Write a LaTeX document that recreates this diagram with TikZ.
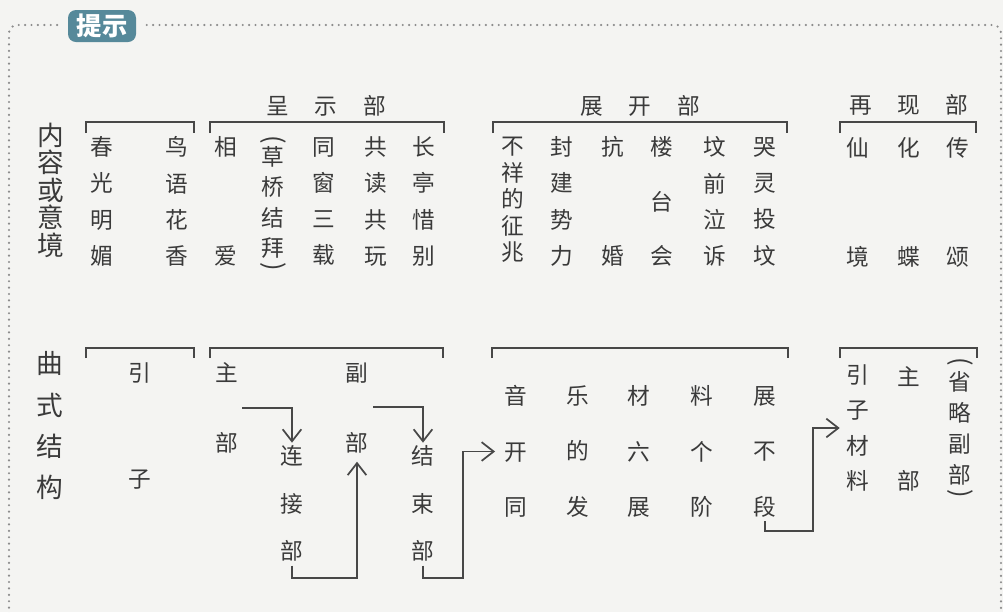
\documentclass[tikz,border=0pt]{standalone}
\usepackage{fontspec}
\newfontfamily\cjk{Noto Sans CJK SC}
\usetikzlibrary{arrows.meta}
\definecolor{bg}{HTML}{F4F4F2}
\definecolor{ink}{HTML}{3A3A3A}
\definecolor{ln}{HTML}{474747}
\definecolor{dotc}{HTML}{8C8C8C}
\definecolor{badgec}{HTML}{56899A}
\tikzset{
  ch/.style={font=\cjk\fontsize{17}{20}\selectfont, text=ink, inner sep=0pt},
  par/.style={font=\cjk\fontsize{19}{20}\selectfont, text=ink, inner sep=0pt, rotate=-90},
  vcol/.style={text=ink, inner sep=0pt, align=center, font=\cjk\fontsize{17}{#1}\selectfont},
  lab/.style={text=ink, inner sep=0pt, align=center, font=\cjk\fontsize{20}{#1}\selectfont},
  brk/.style={draw=ln, line width=1.3pt},
  arr/.style={draw=ln, line width=1.3pt, -{Straight Barb[length=9pt,width=14pt]}},
  frame/.style={draw=dotc, line width=1.8pt, line cap=round, dash pattern=on 0pt off 4.8pt, rounded corners=6pt},
}
\begin{document}
\begin{tikzpicture}[x=0.75pt,y=-0.75pt]
\path[use as bounding box, fill=bg] (0,0) rectangle (1003,612);
% frame
\draw[frame] (9,614) -- (9,25) -- (1001,25) -- (1001,614);
\node[fill=bg, minimum width=62pt, minimum height=26pt, inner sep=0pt] (cover) at (102,26) {};
\node[fill=badgec, rounded corners=6pt, minimum width=51pt, minimum height=24pt, inner sep=0pt,
      text=white, font=\cjk\bfseries\fontsize{19}{19}\selectfont] (badge) at (102,26) {提示};
% left labels
\node[lab=20.6] (nr) at (51,190) {内\\容\\或\\意\\境};
\node[lab=31] (qs) at (50,426) {曲\\式\\结\\构};
% headers
\node[ch] (h1) at (326,106) {呈\hspace{19.4pt}示\hspace{19.4pt}部};
\node[ch] (h2) at (640,106) {展\hspace{19.4pt}开\hspace{19.4pt}部};
\node[ch] (h3) at (909,105) {再\hspace{19pt}现\hspace{19pt}部};
% top brackets
\draw[brk] (86,133) |- (194,122) -- (194,133);
\draw[brk] (210,133) |- (444,122) -- (444,133);
\draw[brk] (493,133) |- (787,122) -- (787,133);
\draw[brk] (840,133) |- (976,122) -- (976,133);
% top content
\node[vcol=27.2] (cg) at (102,201.5) {春\\光\\明\\媚};
\node[vcol=27.2] (ny) at (177,201.5) {鸟\\语\\花\\香};
\node[ch] (xiang) at (226,147) {相};
\node[ch] (ai) at (226,256) {爱};
\node[vcol=22.7] (cq) at (273,202.5) {草\\桥\\结\\拜};
\node[par] (cql) at (273,140) {(};
\node[par] (cqr) at (273,267) {)};
\node[vcol=27.2] (tc) at (324,201.5) {同\\窗\\三\\载};
\node[vcol=27.2] (gd) at (376,201.5) {共\\读\\共\\玩};
\node[vcol=27.2] (ct) at (424,201.5) {长\\亭\\惜\\别};
\node[vcol=19.9] (bx) at (513,200) {不\\祥\\的\\征\\兆};
\node[vcol=27.2] (fj) at (562,201.5) {封\\建\\势\\力};
\node[ch] (kang) at (613,147) {抗};
\node[ch] (hun) at (613,256) {婚};
\node[ch] (lou) at (662,147) {楼};
\node[ch] (tai) at (662,202) {台};
\node[ch] (hui) at (662,256) {会};
\node[vcol=27.2] (fq) at (715,201.5) {坟\\前\\泣\\诉};
\node[vcol=27.2] (kl) at (765,201.5) {哭\\灵\\投\\坟};
\node[ch] (xian) at (858,148) {仙};
\node[ch] (jing) at (858,257) {境};
\node[ch] (hua) at (909,148) {化};
\node[ch] (die) at (909,257) {蝶};
\node[ch] (chuan) at (958,148) {传};
\node[ch] (song) at (958,257) {颂};
% bottom brackets
\draw[brk] (86,358) |- (194,348) -- (194,358);
\draw[brk] (210,358) |- (443,348) -- (443,358);
\draw[brk] (492,358) |- (788,348) -- (788,358);
\draw[brk] (840,358) |- (977,348) -- (977,358);
% bottom content
\node[ch] (yin) at (140,373) {引};
\node[ch] (zi) at (140,480) {子};
\node[ch] (zhu) at (227,373) {主};
\node[ch] (zb) at (227,443) {部};
\node[ch] (fu) at (357,373) {副};
\node[ch] (fb) at (357,443) {部};
\node[vcol=35.6] (lj) at (292,503.5) {连\\接\\部};
\node[vcol=35.6] (js) at (423,503.5) {结\\束\\部};
\node[vcol=41.6] (g1) at (516,451.5) {音\\开\\同};
\node[vcol=41.6] (g2) at (578,451.5) {乐\\的\\发};
\node[vcol=41.6] (g3) at (639,451.5) {材\\六\\展};
\node[vcol=41.6] (g4) at (702,451.5) {料\\个\\阶};
\node[vcol=41.6] (g5) at (765,451.5) {展\\不\\段};
\node[vcol=26.5] (yz) at (858,428) {引\\子\\材\\料};
\node[ch] (zhu2) at (909,377) {主};
\node[ch] (zb2) at (909,481) {部};
\node[vcol=23.2] (sl) at (960,428.5) {省\\略\\副\\部};
\node[par] (sll) at (960,362) {(};
\node[par] (slr) at (960,494) {)};
% connectors
\coordinate (a1) at (242,408);
\coordinate (a3) at (373,407);
\draw[arr] (a1) -| ([yshift=2pt]lj.north);
\draw[arr] ([yshift=-3pt]lj.south) -- ++(0,12) -| ([yshift=-6pt]fb.south);
\draw[arr] (a3) -| ([yshift=2pt]js.north);
\draw[arr] ([yshift=-3pt]js.south) -- ++(0,12) -- ++(40,0) |- ([xshift=-7pt]g1.west);
\draw[arr] ([yshift=-3pt]g5.south) -- ++(0,10) -- ++(48,0) |- ([xshift=-5pt]yz.west);
\end{tikzpicture}
\end{document}
